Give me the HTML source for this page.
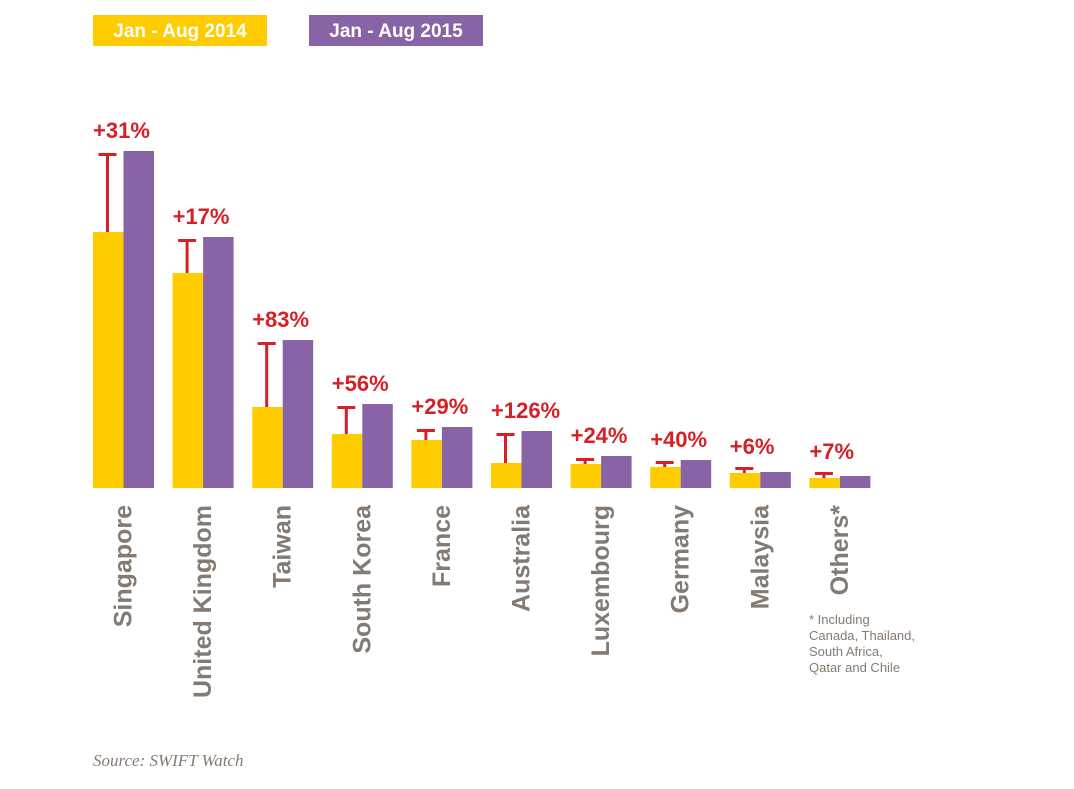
<!DOCTYPE html>
<html><head><meta charset="utf-8"><style>
body{margin:0;background:#fff;width:1074px;height:784px;overflow:hidden;font-family:"Liberation Sans",sans-serif}
</style></head><body>
<svg id="c" width="1074" height="784" xmlns="http://www.w3.org/2000/svg">
<g>
<rect x="93" y="15" width="174" height="31" fill="#ffcc00"/>
<text x="180" y="37" text-anchor="middle" fill="#fff" font-weight="bold" font-size="19">Jan - Aug 2014</text>
<rect x="309" y="15" width="174" height="31" fill="#8864a6"/>
<text x="396" y="37" text-anchor="middle" fill="#fff" font-weight="bold" font-size="19">Jan - Aug 2015</text>
</g>
<g id="bars"></g>
<g fill="#857a72" font-size="13">
<text x="809" y="624">* Including</text>
<text x="809" y="640">Canada, Thailand,</text>
<text x="809" y="656">South Africa,</text>
<text x="809" y="672">Qatar and Chile</text>
</g>
<text x="93" y="766" font-family="Liberation Serif,serif" font-style="italic" font-size="17" fill="#857a72">Source: SWIFT Watch</text>
</svg>
<script>
const categories=["Singapore","United Kingdom","Taiwan","South Korea","France","Australia","Luxembourg","Germany","Malaysia","Others*"];
const values2014=[256,215,81,54,48,25,24,21,15,10];
const values2015=[337,251,148,84,61,57,32,28,16,12];
const growthLabels=["+31%","+17%","+83%","+56%","+29%","+126%","+24%","+40%","+6%","+7%"];
const base=488, x0=93, step=79.6, bw=30.5;
const y=v=>base-v;
const xg=i=>x0+i*step;
const g=document.getElementById('bars');
const NS="http://www.w3.org/2000/svg";
function mk(t,a){const e=document.createElementNS(NS,t);for(const k in a)e.setAttribute(k,a[k]);g.appendChild(e);return e;}
categories.forEach((c,i)=>{
  const x=xg(i);
  const r1=mk('rect',{x:x,y:y(values2014[i]),width:bw,height:values2014[i],fill:'#ffcc00'});
  
  
  const r2=mk('rect',{x:x+bw,y:y(values2015[i]),width:bw,height:values2015[i],fill:'#8864a6'});
  
  
  const top=Math.min(y(values2015[i])+2, y(values2014[i])-6), cx=x+14.5;
  const s=mk('rect',{x:cx-1.5,y:top,width:3,height:Math.max(0,y(values2014[i])-top),fill:'#d71f26'});
  
  
  const cap=mk('rect',{x:cx-9,y:top,width:18,height:3,fill:'#d71f26'});
  
  
  const t=mk('text',{x:x,y:Math.min(y(values2015[i]),top)-13,fill:'#d71f26','font-weight':'bold','font-size':'22'});
  t.textContent=growthLabels[i];
  
  
  const lx=x+bw+8;
  const l=mk('text',{x:0,y:0,transform:`translate(${lx},505) rotate(-90)`,'text-anchor':'end',fill:'#857a72','font-weight':'bold','font-size':'25'});
  l.textContent=c;
  
  
});
</script>
</body></html>
